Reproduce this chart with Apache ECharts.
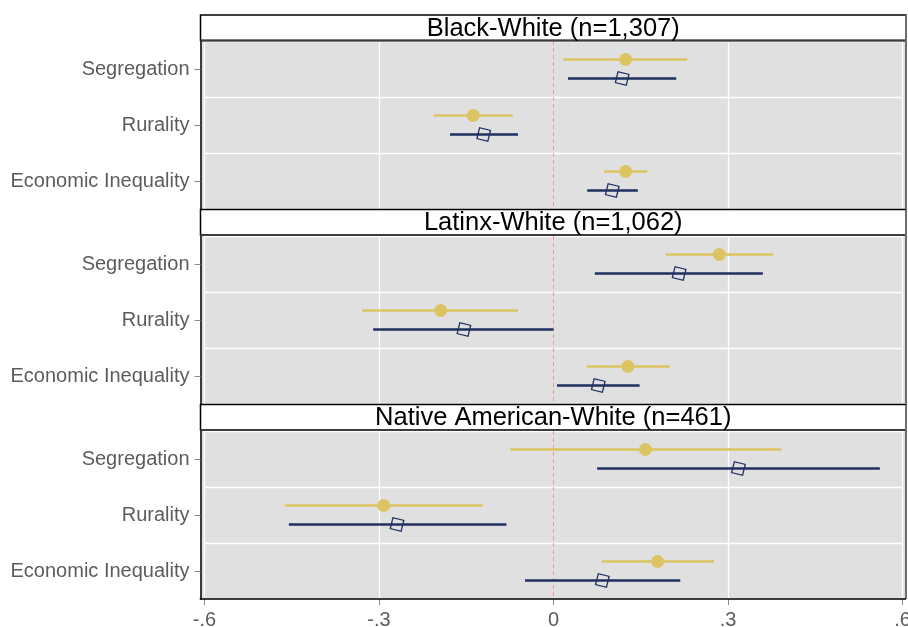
<!DOCTYPE html>
<html><head><meta charset="utf-8">
<script src="https://cdn.jsdelivr.net/npm/echarts@6/dist/echarts.min.js"></script>
<style>html,body{margin:0;padding:0;background:#fff}#c{width:908px;height:627px}</style>
</head><body><div id="c"></div>
<script>
// ---- data ----
const categories = ['Segregation', 'Rurality', 'Economic Inequality'];
const panelTitles = ['Black-White (n=1,307)', 'Latinx-White (n=1,062)', 'Native American-White (n=461)'];
const xTickValues = [-0.6, -0.3, 0, 0.3, 0.6];
const xTickLabels = ['-.6', '-.3', '0', '.3', '.6'];
const referenceLine = [0];

// Black-White
const bwGoldEst  = [0.124, -0.138, 0.124];
const bwGoldLow  = [0.017, -0.206, 0.087];
const bwGoldHigh = [0.230, -0.070, 0.161];
const bwBlueEst  = [0.118, -0.120, 0.101];
const bwBlueLow  = [0.025, -0.178, 0.058];
const bwBlueHigh = [0.211, -0.061, 0.145];
// Latinx-White
const lwGoldEst  = [0.285, -0.194, 0.128];
const lwGoldLow  = [0.193, -0.329, 0.057];
const lwGoldHigh = [0.378, -0.061, 0.200];
const lwBlueEst  = [0.216, -0.154, 0.077];
const lwBlueLow  = [0.071, -0.310, 0.006];
const lwBlueHigh = [0.360,  0.000, 0.148];
// Native American-White
const naGoldEst  = [0.158, -0.292, 0.179];
const naGoldLow  = [-0.074, -0.462, 0.083];
const naGoldHigh = [0.392, -0.122, 0.276];
const naBlueEst  = [0.318, -0.269, 0.084];
const naBlueLow  = [0.075, -0.455, -0.049];
const naBlueHigh = [0.561, -0.081, 0.218];

// ---- build ----
const GOLD = '#DCC462', NAVY = '#1F3160', PINK = '#F29A9A';
const FONT = '"Liberation Sans", Arial, Helvetica, sans-serif';
const panelTops = [41, 236, 431];
const panelH = 168;
const stripTops = [15, 209.5, 404.5];
const stripH = 25.5;
const PL = 200.5, PR = 906;

function rows(low, est, high) {
  return categories.map((c, i) => [i, low[i], est[i], high[i]]);
}
const panelData = [
  {gold: rows(bwGoldLow, bwGoldEst, bwGoldHigh), blue: rows(bwBlueLow, bwBlueEst, bwBlueHigh)},
  {gold: rows(lwGoldLow, lwGoldEst, lwGoldHigh), blue: rows(lwBlueLow, lwBlueEst, lwBlueHigh)},
  {gold: rows(naGoldLow, naGoldEst, naGoldHigh), blue: rows(naBlueLow, naBlueEst, naBlueHigh)}
];

function makeRender(kind) {
  const offset = kind === 'gold' ? -9.5 : 9.5;
  const color = kind === 'gold' ? GOLD : NAVY;
  return function (params, api) {
    const cat = api.value(0);
    const pLo = api.coord([api.value(1), cat]);
    const pE = api.coord([api.value(2), cat]);
    const pHi = api.coord([api.value(3), cat]);
    const y = pE[1] + offset;
    const children = [{
      type: 'line',
      shape: {x1: pLo[0], y1: y, x2: pHi[0], y2: y},
      style: {stroke: color, lineWidth: 2.6}
    }];
    if (kind === 'gold') {
      children.push({type: 'circle', shape: {cx: pE[0], cy: y, r: 6.5}, style: {fill: color}});
    } else {
      children.push({type: 'rect', x: pE[0], y: y, rotation: -0.24,
        shape: {x: -5.6, y: -5.6, width: 11.2, height: 11.2},
        style: {fill: 'none', stroke: color, lineWidth: 1.3}});
    }
    return {type: 'group', children: children};
  };
}

function renderZero(params, api) {
  const x = api.coord([api.value(0), 0])[0];
  const cs = params.coordSys;
  return {type: 'line', shape: {x1: x, y1: cs.y, x2: x, y2: cs.y + cs.height},
    style: {stroke: PINK, lineWidth: 1, lineDash: [4, 3]}};
}

const grids = [], xAxes = [], yAxes = [], series = [], graphics = [];
panelTops.forEach((top, i) => {
  grids.push({left: 204.5, width: 698, top: top, height: panelH, show: false, containLabel: false, outerBoundsMode: 'none'});
  const last = i === panelTops.length - 1;
  xAxes.push({
    type: 'value', gridIndex: i, min: -0.6, max: 0.6, interval: 0.3, position: 'bottom',
    axisLine: {show: false, onZero: false},
    axisTick: {show: last, length: 6, lineStyle: {color: '#8a8a8a', width: 1}},
    axisLabel: {show: last, margin: 11, color: '#5c5c5c', fontSize: 20, fontFamily: FONT,
      formatter: v => { const k = xTickValues.findIndex(t => Math.abs(t - v) < 1e-6); return k >= 0 ? xTickLabels[k] : ''; }},
    splitLine: {show: true, lineStyle: {color: ['#ffffff', '#ffffff', 'rgba(0,0,0,0)', '#ffffff', '#ffffff'], width: 1.3}}
  });
  yAxes.push({
    type: 'category', gridIndex: i, data: categories, inverse: true, offset: 4, position: 'left',
    axisLine: {show: true, onZero: false, lineStyle: {color: '#000', width: 1.5}},
    axisTick: {show: true, alignWithLabel: true, length: 6, lineStyle: {color: '#8a8a8a', width: 1}},
    axisLabel: {margin: 11, color: '#5c5c5c', fontSize: 20, fontFamily: FONT, lineHeight: 24, padding: [4, 0, 0, 0]},
    splitLine: {show: true, interval: 0, lineStyle: {color: '#ffffff', width: 1.3}}
  });
  series.push({
    type: 'custom', xAxisIndex: i, yAxisIndex: i, renderItem: renderZero,
    encode: {x: 0}, data: referenceLine.map(v => [v]), z: 2, silent: true, clip: false
  });
  series.push({
    type: 'custom', xAxisIndex: i, yAxisIndex: i, renderItem: makeRender('gold'),
    encode: {x: [1, 2, 3], y: 0}, data: panelData[i].gold, z: 3, itemStyle: {color: GOLD}
  });
  series.push({
    type: 'custom', xAxisIndex: i, yAxisIndex: i, renderItem: makeRender('blue'),
    encode: {x: [1, 2, 3], y: 0}, data: panelData[i].blue, z: 4, itemStyle: {color: NAVY}
  });
  // panel background
  graphics.push({type: 'rect', z: -10, shape: {x: PL, y: top, width: PR - PL, height: panelH}, style: {fill: '#E0E0E0'}});
  // strip
  const st = stripTops[i];
  graphics.push({type: 'rect', z: 50, shape: {x: PL, y: st, width: PR - PL, height: stripH}, style: {fill: '#fff', stroke: '#000', lineWidth: 1.5}});
  graphics.push({type: 'line', z: 51, shape: {x1: PL, y1: st + stripH, x2: PR, y2: st + stripH}, style: {stroke: '#3d3d3d', lineWidth: 2.2}});
  graphics.push({type: 'text', z: 52, x: (PL + PR) / 2, y: st + stripH / 2 + 1,
    style: {text: panelTitles[i], font: '25.5px ' + FONT, fill: '#000', align: 'center', verticalAlign: 'middle', textAlign: 'center', textVerticalAlign: 'middle'}});
  // right border
  graphics.push({type: 'line', z: 51, shape: {x1: PR, y1: st, x2: PR, y2: top + panelH}, style: {stroke: '#6e6e6e', lineWidth: 2}});
});
// bottom axis line
graphics.push({type: 'line', z: 51, shape: {x1: PL - 0.75, y1: panelTops[2] + panelH, x2: PR, y2: panelTops[2] + panelH}, style: {stroke: '#000', lineWidth: 1.5}});

const chart = echarts.init(document.getElementById('c'), null, {renderer: 'canvas'});
chart.setOption({
  animation: false,
  backgroundColor: '#fff',
  grid: grids, xAxis: xAxes, yAxis: yAxes, series: series, graphic: graphics
});
</script></body></html>
